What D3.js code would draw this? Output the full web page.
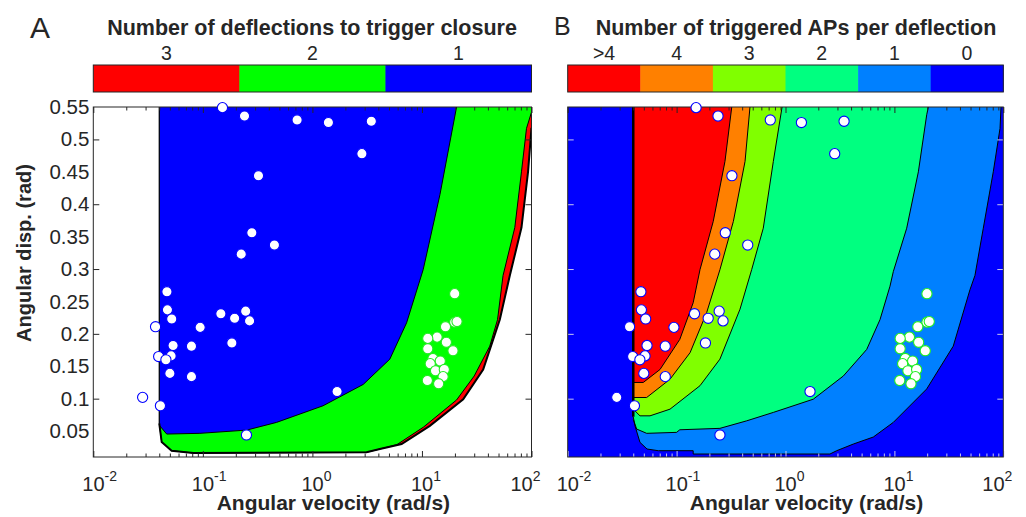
<!DOCTYPE html>
<html>
<head>
<meta charset="utf-8">
<script src="https://cdn.jsdelivr.net/npm/d3@7"></script>
<style>
  body { margin: 0; background: #fff; }
  svg text { font-family: "Liberation Sans", Arial, Helvetica, sans-serif; fill: #262626; }
</style>
</head>
<body>
<div id="chart"></div>
<script>
// x = angular velocity (rad/s, log axis), y = angular displacement (rad)
const velExponents = [-2, -1, 0, 1, 2];
const dispLabels = [0.05, 0.1, 0.15, 0.2, 0.25, 0.3, 0.35, 0.4, 0.45, 0.5, 0.55];
const dispTicks = [0.1, 0.2, 0.3, 0.4, 0.5];

const closureLevels = ["3", "2", "1"];
const apLevels = [">4", "4", "3", "2", "1", "0"];

const closureColors = ["#ff0000", "#00ff00", "#0000ff"];
const apColors = ["#ff0000", "#ff8000", "#80ff00", "#00ff80", "#0080ff", "#0000ff"];

// panel A contour boundaries [velocity, displacement], from the left edge round to the top
const closureOuter = [[0.04, 0.062], [0.0421, 0.033], [0.0519, 0.0197], [0.0817, 0.0162], [3.12, 0.0172],
  [4.13, 0.0223], [6.52, 0.03], [11.8, 0.058], [23.8, 0.099], [36.2, 0.145], [51.4, 0.222],
  [63.4, 0.29], [81, 0.364], [93, 0.45], [100, 0.518]];
const closureTwo = [[0.04, 0.062], [0.0421, 0.033], [0.0519, 0.0197], [0.0817, 0.0162], [3.12, 0.0172],
  [4.13, 0.0223], [5.9, 0.029], [10.3, 0.056], [20.7, 0.098], [30, 0.135], [41.6, 0.181],
  [49, 0.222], [55, 0.29], [70.4, 0.364], [81, 0.45], [90, 0.517], [100, 0.542]];
const closureOne = [[0.04, 0.059], [0.0468, 0.0454], [0.094, 0.0465], [0.251, 0.0515], [0.471, 0.0634],
  [1.25, 0.089], [2.91, 0.122], [5.09, 0.161], [7.24, 0.217], [10.26, 0.299], [14.6, 0.415], [20.7, 0.55]];

// panel B contour boundaries
const apOuter = [[0.04, 0.072], [0.0415, 0.058], [0.0461, 0.0326], [0.0535, 0.0223], [0.0679, 0.0197],
  [0.142, 0.0197], [0.142, 0.0146], [2.56, 0.0146], [2.95, 0.0197], [4.2, 0.03], [6.4, 0.0408],
  [9.77, 0.0634], [19.8, 0.115], [34.7, 0.181], [49.4, 0.268], [54.9, 0.29], [65.5, 0.363],
  [80.9, 0.45], [93.3, 0.517], [95.3, 0.55]];
const apOne = [[0.04, 0.068], [0.043, 0.0531], [0.0531, 0.0465], [0.1, 0.048], [0.107, 0.052],
  [0.25, 0.0542], [0.44, 0.0658], [0.773, 0.0788], [1.8, 0.0992], [3.4, 0.135], [5.57, 0.176],
  [7.38, 0.222], [9.11, 0.2735], [9.77, 0.296], [12.97, 0.363], [16.6, 0.45], [19.8, 0.538], [20.5, 0.55]];
const apTwo = [[0.04, 0.0838], [0.0461, 0.0735], [0.057, 0.0735], [0.087, 0.0838], [0.164, 0.12],
  [0.25, 0.161], [0.382, 0.238], [0.489, 0.299], [0.625, 0.363], [0.773, 0.466], [0.93, 0.55]];
const apThree = [[0.04, 0.1018], [0.0531, 0.1018], [0.087, 0.13], [0.133, 0.171], [0.189, 0.233],
  [0.25, 0.299], [0.332, 0.3735], [0.425, 0.466], [0.472, 0.55]];
const apFour = [[0.04, 0.125], [0.0494, 0.125], [0.0704, 0.145], [0.107, 0.1915], [0.142, 0.248],
  [0.164, 0.299], [0.217, 0.3735], [0.278, 0.466], [0.321, 0.55]];

// measured stimuli
const stimBlue = [[0.151, 0.549], [0.24, 0.536], [0.725, 0.53], [1.4, 0.526], [3.45, 0.528],
  [2.83, 0.478], [0.322, 0.444], [0.28, 0.356], [0.45, 0.337], [0.224, 0.323],
  [0.047, 0.265], [0.0475, 0.237], [0.052, 0.223], [0.037, 0.211], [0.0945, 0.21],
  [0.146, 0.231], [0.195, 0.224], [0.246, 0.235], [0.267, 0.22], [0.184, 0.186],
  [0.0535, 0.182], [0.0787, 0.181], [0.0395, 0.165], [0.0513, 0.166], [0.046, 0.16],
  [0.05, 0.139], [0.0787, 0.134], [0.0282, 0.102], [0.041, 0.089], [1.68, 0.111], [0.25, 0.044]];
const stimGreen = [[19.9, 0.262], [19.9, 0.218], [20.9, 0.219], [16.4, 0.211], [13.75, 0.195],
  [11.3, 0.193], [16.7, 0.187], [19.2, 0.174], [11.3, 0.177], [12.6, 0.162], [14.7, 0.158],
  [11.9, 0.154], [13.3, 0.143], [16.0, 0.145], [15.6, 0.134], [11.2, 0.128], [14.2, 0.123]];

const width = 1026, height = 517;
const plotTop = 107, plotBottom = 457;

const svg = d3.select("#chart").append("svg")
    .attr("width", width)
    .attr("height", height);

function drawPanel(p) {
  const x = d3.scaleLog().domain([0.01, 100]).range([p.left, p.right]);
  const y = d3.scaleLinear().domain([0.01, 0.55]).range([plotBottom, plotTop]);
  const line = d3.line().x(d => x(d[0])).y(d => y(d[1]));
  const g = svg.append("g");

  // closes a boundary along the top edge back to the left cut-off
  function region(b) {
    const pts = b.slice();
    if (pts[pts.length - 1][1] < 0.55) pts.push([100, 0.55]);
    pts.push([0.04, 0.55]);
    return line(pts) + "Z";
  }

  g.append("clipPath").attr("id", "clip" + p.id)
    .append("rect")
    .attr("x", p.left).attr("y", plotTop)
    .attr("width", p.right - p.left).attr("height", plotBottom - plotTop);

  const cg = g.append("g").attr("clip-path", "url(#clip" + p.id + ")");
  if (p.background)
    cg.append("rect")
      .attr("x", p.left).attr("y", plotTop)
      .attr("width", p.right - p.left).attr("height", plotBottom - plotTop)
      .attr("fill", p.background);

  cg.selectAll("path.fill")
    .data(p.bounds)
    .enter().append("path")
    .attr("class", "fill")
    .attr("d", d => region(d))
    .attr("fill", (d, i) => p.fills[i]);

  cg.selectAll("path.edge")
    .data(p.bounds)
    .enter().append("path")
    .attr("class", "edge")
    .attr("d", d => line(d))
    .attr("fill", "none")
    .attr("stroke", "#000")
    .attr("stroke-width", (d, i) => i == 0 ? p.outerWidth : 1);

  cg.append("path")
    .attr("d", line([[0.04, 0.55], p.bounds[0][0]]))
    .attr("stroke", "#000")
    .attr("stroke-width", p.leftWidth);

  // ticks (pointing inwards)
  const majors = velExponents.map(e => Math.pow(10, e));
  const minors = x.ticks().filter(v => !majors.some(m => Math.abs(m - v) < 1e-9));
  const noDomain = a => a.select(".domain").remove();

  function tickGroup(axis, tr, color) {
    g.append("g").attr("transform", tr)
      .call(axis.tickFormat(""))
      .call(noDomain)
      .selectAll("line").attr("stroke", color);
  }
  tickGroup(d3.axisBottom(x).tickValues(majors).tickSize(-6).tickSizeOuter(0), `translate(0,${plotBottom})`, p.tickColor);
  tickGroup(d3.axisBottom(x).tickValues(minors).tickSize(-3.5).tickSizeOuter(0), `translate(0,${plotBottom})`, p.tickColor);
  tickGroup(d3.axisTop(x).tickValues(majors).tickSize(-6).tickSizeOuter(0), `translate(0,${plotTop})`, "#262626");
  tickGroup(d3.axisTop(x).tickValues(minors).tickSize(-3.5).tickSizeOuter(0), `translate(0,${plotTop})`, "#262626");
  tickGroup(d3.axisLeft(y).tickValues(dispTicks).tickSize(-6).tickSizeOuter(0), `translate(${p.left},0)`, p.tickColor);
  tickGroup(d3.axisRight(y).tickValues(dispTicks).tickSize(-6).tickSizeOuter(0), `translate(${p.right},0)`, p.tickColor);

  g.append("rect")
    .attr("x", p.left).attr("y", plotTop)
    .attr("width", p.right - p.left).attr("height", plotBottom - plotTop)
    .attr("fill", "none").attr("stroke", "#262626").attr("stroke-width", 1);

  // x tick labels 10^n
  const xl = g.selectAll("text.xtick")
    .data(velExponents)
    .enter().append("text")
    .attr("class", "xtick")
    .attr("x", (e, i) => x(Math.pow(10, e)) - 11 - (i == velExponents.length - 1 ? 10 : 0))
    .attr("y", 491)
    .style("font-size", "20px");
  xl.append("tspan").text("10");
  xl.append("tspan").attr("dy", -10).style("font-size", "14px").text(e => String(e));

  if (p.yLabels) {
    g.append("g").attr("transform", `translate(${p.left},0)`)
      .call(d3.axisLeft(y).tickValues(dispLabels).tickSize(0).tickPadding(4).tickFormat(d3.format("~g")))
      .call(noDomain)
      .selectAll("text")
      .style("font-size", "20.5px")
      .attr("fill", "#262626");

    g.append("text")
      .attr("transform", "translate(31,253) rotate(-90)")
      .attr("text-anchor", "middle")
      .style("font-size", "20px")
      .style("font-weight", "bold")
      .text("Angular disp. (rad)");
  }

  g.append("text")
    .attr("x", (p.left + p.right) / 2 + 21)
    .attr("y", 510)
    .attr("text-anchor", "middle")
    .style("font-size", "21px")
    .style("font-weight", "bold")
    .text("Angular velocity (rad/s)");

  // scatter
  g.selectAll("circle.blue")
    .data(stimBlue)
    .enter().append("circle")
    .attr("cx", d => x(d[0]))
    .attr("cy", d => y(d[1]))
    .attr("r", 5.1)
    .attr("fill", "#fff")
    .attr("stroke", "#0000ff")
    .attr("stroke-width", 1.1);
  g.selectAll("circle.green")
    .data(stimGreen)
    .enter().append("circle")
    .attr("cx", d => x(d[0]))
    .attr("cy", d => y(d[1]))
    .attr("r", 5.1)
    .attr("fill", "#fff")
    .attr("stroke", "#22ee22")
    .attr("stroke-width", 1.1);

  // colour bar
  const cb = d3.scaleBand().domain(p.levels).range([p.left, p.right]);
  g.selectAll("rect.cb")
    .data(p.levels)
    .enter().append("rect")
    .attr("x", d => cb(d))
    .attr("y", 65)
    .attr("width", cb.bandwidth() + 0.5)
    .attr("height", 27)
    .attr("fill", (d, i) => p.barColors[i]);
  g.append("rect")
    .attr("x", p.left).attr("y", 65)
    .attr("width", p.right - p.left).attr("height", 27)
    .attr("fill", "none").attr("stroke", "#262626").attr("stroke-width", 1);
  g.selectAll("text.cb")
    .data(p.levels)
    .enter().append("text")
    .attr("x", d => cb(d) + cb.bandwidth() / 2)
    .attr("y", 59.5)
    .attr("text-anchor", "middle")
    .style("font-size", "19.5px")
    .text(d => d);

  g.append("text")
    .attr("x", p.titleX)
    .attr("y", 34.5)
    .attr("text-anchor", "middle")
    .style("font-size", "21.5px")
    .style("font-weight", "bold")
    .text(p.title);

  g.append("text")
    .attr("x", p.letterX)
    .attr("y", p.letterY)
    .style("font-size", p.letterSize)
    .text(p.letter);
}

drawPanel({
  id: "A", left: 93.3, right: 531.5,
  bounds: [closureOuter, closureTwo, closureOne],
  fills: closureColors,
  outerWidth: 2, leftWidth: 1.2,
  tickColor: "#262626",
  yLabels: true,
  levels: closureLevels, barColors: closureColors,
  title: "Number of deflections to trigger closure", titleX: 312,
  letter: "A", letterX: 30, letterY: 38, letterSize: "30px"
});

drawPanel({
  id: "B", left: 567.7, right: 1003.3,
  background: apColors[5],
  bounds: [apOuter, apOne, apTwo, apThree, apFour],
  fills: [apColors[4], apColors[3], apColors[2], apColors[1], apColors[0]],
  outerWidth: 1, leftWidth: 2.5,
  tickColor: "#c8c8f0",
  yLabels: false,
  levels: apLevels, barColors: apColors,
  title: "Number of triggered APs per deflection", titleX: 796,
  letter: "B", letterX: 554, letterY: 35, letterSize: "25px"
});
</script>
</body>
</html>
